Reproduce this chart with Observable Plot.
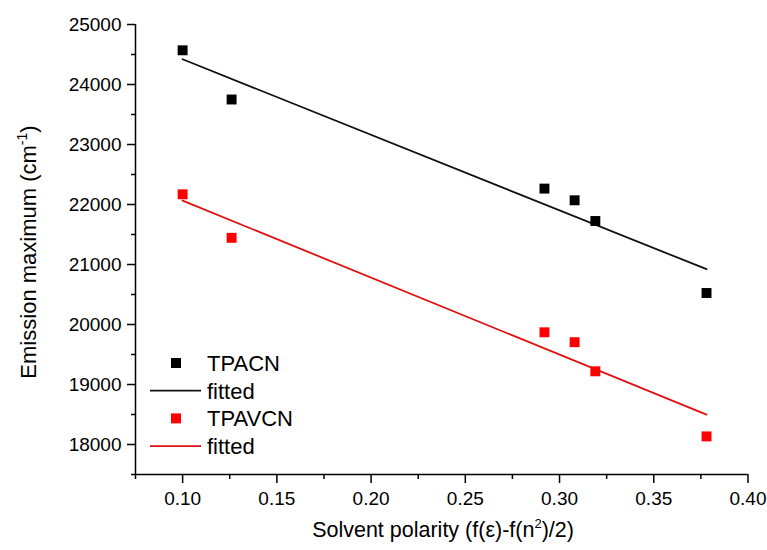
<!DOCTYPE html>
<html>
<head>
<meta charset="utf-8">
<script src="https://cdn.jsdelivr.net/npm/d3@7"></script>
<script src="https://cdn.jsdelivr.net/npm/@observablehq/plot@0.6"></script>
<style>
  html, body { margin: 0; padding: 0; background: #fff; }
</style>
</head>
<body>
<div id="chart"></div>
<script>
// Data
const polarity = [0.100, 0.126, 0.292, 0.308, 0.319, 0.378];
const tpacn   = [24570, 23750, 22265, 22070, 21725, 20525];
const tpavcn  = [22170, 21445, 19870, 19705, 19220, 18135];
const seriesNames = ["TPACN", "TPAVCN"];
const seriesColors = ["#000000", "#ff0000"];
const lineColors = ["#111111", "#e01010"];

const xDomain = [0.075, 0.40];
const yDomain = [17500, 25000];
const xTicks = [0.10, 0.15, 0.20, 0.25, 0.30, 0.35, 0.40];
const xMinor = [0.075, 0.125, 0.175, 0.225, 0.275, 0.325, 0.375];
const yTicks = [18000, 19000, 20000, 21000, 22000, 23000, 24000, 25000];
const yMinor = [17500, 18500, 19500, 20500, 21500, 22500, 23500, 24500];

const dataA = polarity.map((x, i) => ({x, y: tpacn[i]}));
const dataB = polarity.map((x, i) => ({x, y: tpavcn[i]}));

const font = "'Liberation Sans', Arial, sans-serif";

const plot = Plot.plot({
  width: 767,
  height: 550,
  marginLeft: 135,
  marginRight: 19.5,
  marginTop: 24,
  marginBottom: 76,
  style: {fontFamily: font, fontSize: "19px", color: "#000", background: "#fff"},
  x: {domain: xDomain},
  y: {domain: yDomain},
  marks: [
    Plot.ruleX([xDomain[0]], {stroke: "#000", strokeWidth: 1.5}),
    Plot.ruleY([yDomain[0]], {stroke: "#000", strokeWidth: 1.5}),
    Plot.axisX({ticks: xTicks, tickFormat: d3.format(".2f"), tickSize: 9, tickPadding: 8, label: null, strokeWidth: 1.5}),
    Plot.axisX({ticks: xMinor, tickSize: 5, text: null, label: null, strokeWidth: 1.5}),
    Plot.axisY({ticks: yTicks, tickFormat: d3.format("d"), tickSize: 8, tickPadding: 6, label: null, strokeWidth: 1.5}),
    Plot.axisY({ticks: yMinor, tickSize: 4, text: null, label: null, strokeWidth: 1.5}),
    Plot.linearRegressionY(dataA, {x: "x", y: "y", stroke: lineColors[0], strokeWidth: 1.8, ci: 0}),
    Plot.linearRegressionY(dataB, {x: "x", y: "y", stroke: lineColors[1], strokeWidth: 1.8, ci: 0}),
    Plot.dot(dataA, {x: "x", y: "y", symbol: "square", r: 5.6, fill: seriesColors[0], stroke: null}),
    Plot.dot(dataB, {x: "x", y: "y", symbol: "square", r: 5.6, fill: seriesColors[1], stroke: null})
  ]
});

document.getElementById("chart").appendChild(plot);

const svg = d3.select(plot);

// Axis titles with superscripts
const yt = svg.append("text")
  .attr("transform", "translate(36,252) rotate(-90)")
  .attr("text-anchor", "middle")
  .attr("font-family", font)
  .attr("font-size", 22)
  .attr("fill", "#000");
yt.append("tspan").text("Emission maximum (cm");
yt.append("tspan").attr("font-size", 14).attr("dy", -9).text("-1");
yt.append("tspan").attr("dy", 9).text(")");

const xt = svg.append("text")
  .attr("x", 443)
  .attr("y", 537)
  .attr("text-anchor", "middle")
  .attr("font-family", font)
  .attr("font-size", 21.5)
  .attr("fill", "#000");
xt.append("tspan").text("Solvent polarity (f(ε)-f(n");
xt.append("tspan").attr("font-size", 13).attr("dy", -9).text("2");
xt.append("tspan").attr("dy", 9).text(")/2)");

// Legend
const lg = svg.append("g").attr("font-family", font).attr("font-size", 22).attr("fill", "#000");
const items = [
  {type: "square", color: seriesColors[0], label: seriesNames[0]},
  {type: "line", color: lineColors[0], label: "fitted"},
  {type: "square", color: seriesColors[1], label: seriesNames[1]},
  {type: "line", color: lineColors[1], label: "fitted"}
];
items.forEach((it, i) => {
  const cy = 363 + i * 27.7;
  if (it.type === "square") {
    lg.append("rect").attr("x", 171).attr("y", cy - 5).attr("width", 10).attr("height", 10).attr("fill", it.color);
  } else {
    lg.append("line").attr("x1", 150).attr("x2", 201).attr("y1", cy).attr("y2", cy)
      .attr("stroke", it.color).attr("stroke-width", 1.8);
  }
  lg.append("text").attr("x", 207).attr("y", cy).attr("dy", "0.36em")
    .attr("text-anchor", "start").text(it.label);
});
</script>
</body>
</html>
